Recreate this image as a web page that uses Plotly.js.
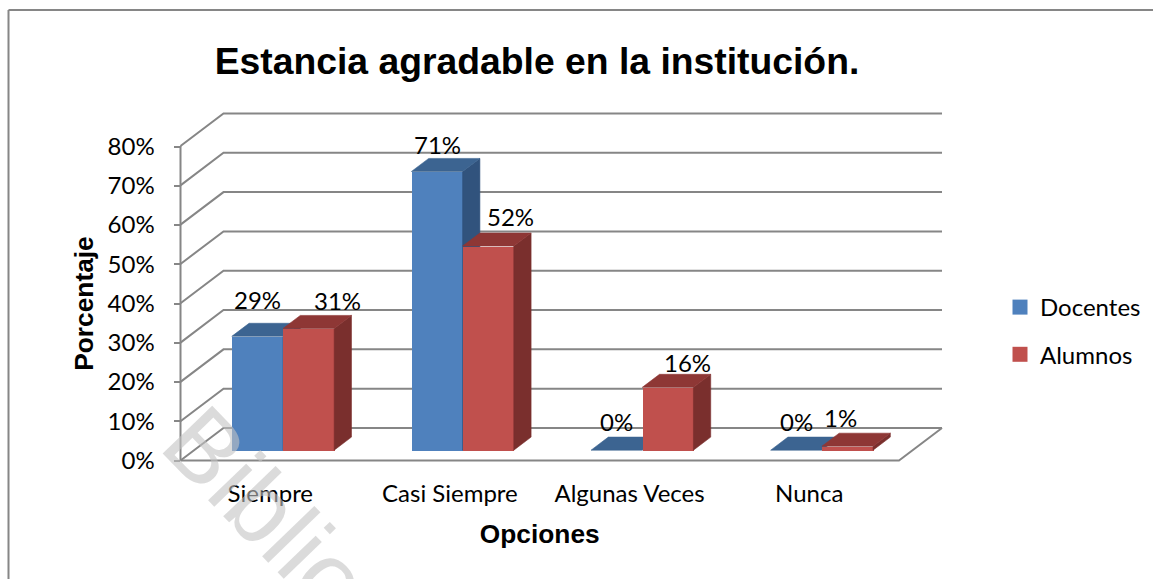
<!DOCTYPE html>
<html><head><meta charset="utf-8">
<script src="https://cdn.plot.ly/plotly-3.0.1.min.js"></script>
<style>html,body{margin:0;padding:0;background:#fff;overflow:hidden}#c{width:1153px;height:579px}</style>
</head><body><div id="c"></div>
<script>
const categories = ['Siempre','Casi Siempre','Algunas Veces','Nunca'];
const docentes = [29,71,0,0];
const alumnos = [31,52,16,1];
const yTicks = [0,10,20,30,40,50,60,70,80];
const yTickText = ['0%','10%','20%','30%','40%','50%','60%','70%','80%'];

const W=1153,H=579;
const px={l:180.5,r:899,backR:942,b:460.5,t:146.5,backT:113.5};
const pad=3;
const unitX=(px.r-px.l)/4, unitY=(px.b-px.t)/80;
const Dx=(px.backR-px.r)/unitX, Dy=(px.b-428)/unitY;
const z0=0.318,z1=0.72,barW=0.285;
const barShift=-1/unitX;
const GRID='#868686';
const BLUE={front:'#4F81BD',top:'#3C6491',side:'#31537D'};
const RED={front:'#C0504D',top:'#8E3735',side:'#7A2F2D'};
const labelFont={family:'Lato, Carlito, sans-serif',size:24,color:'#000'};

// label nudges in pixels
const nudgeD={x:[-1,-1,-1,-1],y:[37,27,29,29]};
const nudgeA={x:[28,21,19,-8],y:[28,30,25,29]};

const P=(x,v,z)=>[x+barShift+z*Dx,v+z*Dy];
function poly(list){const xs=[],ys=[];list.forEach(p=>{p.concat([p[0]]).forEach(q=>{xs.push(q[0]);ys.push(q[1]);});xs.push(null);ys.push(null);});return{x:xs,y:ys};}
function faces(vals,off){
  const top=[],side=[];
  vals.forEach((v,i)=>{
    const a=i+off,b=i+off+barW;
    top.push([P(a,v,z0),P(b,v,z0),P(b,v,z1),P(a,v,z1)]);
    if(v>0) side.push([P(b,0,z0),P(b,v,z0),P(b,v,z1),P(b,0,z1)]);
  });
  return{top:poly(top),side:poly(side)};
}
function fillTrace(d,color,xa,ya){return{type:'scatter',mode:'lines',x:d.x,y:d.y,fill:'toself',fillcolor:color,line:{width:0.6,color:color},hoverinfo:'skip',showlegend:false,xaxis:xa,yaxis:ya};}
function barTrace(name,vals,off,color,xa,ya){return{type:'bar',name:name,x:vals.map((_,i)=>i+off+barW/2+barShift+z0*Dx),y:vals,base:vals.map(()=>z0*Dy),width:barW,marker:{color:color,line:{width:0}},showlegend:false,xaxis:xa,yaxis:ya};}
function legendTrace(name,color){return{type:'scatter',mode:'markers',name:name,legendgroup:name,x:[null],y:[null],marker:{symbol:'square',size:15,color:color},xaxis:'x',yaxis:'y'};}

// walls
const wx=[],wy=[];
yTicks.forEach(v=>{
  wx.push(-0.5,-0.5+Dx,3.5+Dx,null);
  wy.push(v,v+Dy,v+Dy,null);
});
wx.push(-0.5,3.5,3.5+Dx,null,-0.5,-0.5);
wy.push(0,0,Dy,null,0,80);
const wall={type:'scatter',mode:'lines',x:wx,y:wy,line:{color:GRID,width:2},hoverinfo:'skip',showlegend:false,xaxis:'x',yaxis:'y',connectgaps:false};

const fD=faces(docentes,-barW),fA=faces(alumnos,0);
const traces=[
  wall,
  legendTrace('Docentes',BLUE.front),legendTrace('Alumnos',RED.front),
  barTrace('Docentes',docentes,-barW,BLUE.front,'x2','y2'),
  fillTrace(fD.side,BLUE.side,'x2','y2'),fillTrace(fD.top,BLUE.top,'x2','y2'),
  barTrace('Alumnos',alumnos,0,RED.front,'x3','y3'),
  fillTrace(fA.side,RED.side,'x3','y3'),fillTrace(fA.top,RED.top,'x3','y3')
];

const ann=[];
function addLabels(vals,off,n){vals.forEach((v,i)=>ann.push({xref:'x2',yref:'y2',x:i+off+barW/2+z0*Dx,y:v+z0*Dy,text:v+'%',showarrow:false,xanchor:'center',yanchor:'middle',xshift:n.x[i],yshift:n.y[i],font:labelFont}));}
addLabels(docentes,-barW,nudgeD);addLabels(alumnos,0,nudgeA);
ann.push({xref:'paper',yref:'paper',x:267/W,y:1-511/H,xanchor:'center',yanchor:'middle',text:'Biblio',showarrow:false,textangle:46,font:{family:'Liberation Sans',size:100,color:'rgba(195,195,195,0.6)'}});

const hidden={visible:false,fixedrange:true};
const dX=[px.l/W,px.r/W],dXb=[(px.l-pad)/W,(px.backR+pad)/W];
const dY=[1-px.b/H,1-px.t/H],dYb=[1-(px.b+pad)/H,1-(px.backT-pad)/H];
const rX=[-0.5,3.5],rXb=[-0.5-pad/unitX,3.5+Dx+pad/unitX],rY=[0,80],rYb=[-pad/unitY,80+Dy+pad/unitY];
const layout={
  width:W,height:H,margin:{l:0,r:0,t:0,b:0},paper_bgcolor:'#fff',plot_bgcolor:'rgba(0,0,0,0)',
  barmode:'overlay',bargap:0,
  title:{text:'Estancia agradable en la institución.',x:537/W,xanchor:'center',y:1-61/H,yanchor:'middle',font:{family:'Liberation Sans',size:37.3,color:'#000',weight:700}},
  xaxis:Object.assign({domain:dXb,range:rXb,anchor:'y'},hidden),
  yaxis:Object.assign({domain:dYb,range:rYb,anchor:'x'},hidden),
  xaxis2:{domain:dX,range:rX,anchor:'y2',tickmode:'array',tickvals:categories.map((_,i)=>i),ticktext:categories,ticks:'',showgrid:false,zeroline:false,showline:false,ticklabelstandoff:16,tickfont:labelFont,fixedrange:true,
    title:{text:'Opciones',standoff:19,font:{family:'Liberation Sans',size:26.3,color:'#000',weight:700}}},
  yaxis2:{domain:dY,range:rY,anchor:'x2',tickmode:'array',tickvals:yTicks,ticktext:yTickText,ticks:'outside',ticklen:6,tickwidth:2,tickcolor:GRID,showgrid:false,zeroline:false,showline:false,ticklabelstandoff:14,tickfont:labelFont,fixedrange:true,
    title:{text:'Porcentaje',standoff:6,font:{family:'Liberation Sans',size:26.3,color:'#000',weight:700}}},
  xaxis3:Object.assign({domain:dX,range:rX,overlaying:'x2',anchor:'y3'},hidden),
  yaxis3:Object.assign({domain:dY,range:rY,overlaying:'y2',anchor:'x3'},hidden),
  legend:{x:1000/W,y:1-285/H,xanchor:'left',yanchor:'top',font:labelFont,tracegroupgap:13,bgcolor:'rgba(0,0,0,0)',itemclick:false,itemdoubleclick:false},
  showlegend:true,
  annotations:ann,
  shapes:[
    {type:'line',xref:'paper',yref:'paper',x0:8.5/W,x1:1,y0:1-10/H,y1:1-10/H,line:{color:GRID,width:2}},
    {type:'line',xref:'paper',yref:'paper',x0:8.5/W,x1:8.5/W,y0:1-10/H,y1:0,line:{color:GRID,width:2}}
  ]
};
Plotly.newPlot('c',traces,layout,{displayModeBar:false,responsive:false});
</script></body></html>
